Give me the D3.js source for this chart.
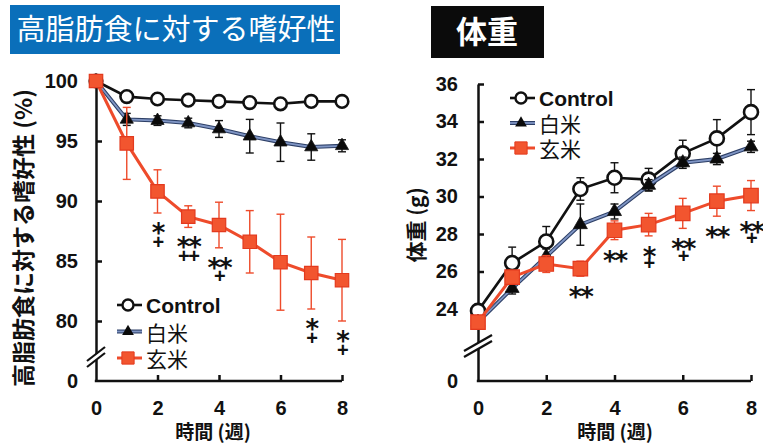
<!DOCTYPE html>
<html><head><meta charset="utf-8">
<script src="https://cdn.jsdelivr.net/npm/d3@7/dist/d3.min.js"></script>
<style>
body{margin:0;background:#fff;}
svg{display:block;}
</style></head>
<body>
<svg id="chart" width="763" height="443"></svg>
<script>
// ---------- DATA ----------
const weeks = [0, 1, 2, 3, 4, 5, 6, 7, 8];
const seriesNames = ["Control", "白米", "玄米"];

const prefControl    = [100, 98.7, 98.5, 98.4, 98.3, 98.2, 98.1, 98.3, 98.3];
const prefControlErr = [0, 0.15, 0.1, 0.1, 0.1, 0.15, 0.35, 0.25, 0.15];
const prefWhite      = [100, 96.8, 96.7, 96.5, 96.0, 95.4, 94.9, 94.5, 94.6];
const prefWhiteErr   = [0, 0.5, 0.4, 0.4, 0.7, 1.4, 1.6, 1.1, 0.5];
const prefBrown      = [100, 94.8, 90.8, 88.7, 88.0, 86.6, 84.9, 84.0, 83.4];
const prefBrownErr   = [0, 3.0, 1.8, 0.9, 1.9, 2.6, 4.0, 3.0, 3.4];

const weightControl    = [23.9, 26.45, 27.6, 30.4, 31.0, 30.9, 32.3, 33.1, 34.5];
const weightControlErr = [0.3, 0.85, 0.8, 0.6, 0.8, 0.6, 0.7, 1.0, 1.2];
const weightWhite      = [23.3, 25.1, 26.8, 28.5, 29.2, 30.6, 31.8, 32.0, 32.65];
const weightWhiteErr   = [0.3, 0.3, 0.4, 1.1, 0.4, 0.3, 0.3, 0.3, 0.3];
const weightBrown      = [23.3, 25.7, 26.4, 26.15, 28.2, 28.5, 29.1, 29.75, 30.05];
const weightBrownErr   = [0.3, 0.3, 0.45, 0.4, 0.5, 0.6, 0.8, 0.8, 0.8];

const prefSigWeeks  = [2, 3, 4, 7, 8];
const prefSigStars  = ["*", "**", "**", "*", "*"];
const prefSigPlus   = ["+", "++", "+", "+", "+"];
const weightSigWeeks = [3, 4, 5, 6, 7, 8];
const weightSigStars = ["**", "**", "*", "**", "**", "**"];
const weightSigPlus  = ["", "", "+", "+", "", "+"];

const xTicks = [0, 2, 4, 6, 8];
const prefYTicks = [0, 80, 85, 90, 95, 100];
const weightYTicks = [0, 24, 26, 28, 30, 32, 34, 36];

const titleLeft = "高脂肪食に対する嗜好性";
const titleRight = "体重";
const yTitleLeft = "高脂肪食に対する嗜好性 (%)";
const yTitleRight = "体重 (g)";
const xTitle = "時間 (週)";

// ---------- DRAW ----------
const svg = d3.select("#chart");
const NUM_FONT = "'Liberation Sans', Arial, sans-serif";
const STAR_FONT = "'DejaVu Sans', sans-serif";
const CJK_FONT = "'Noto Sans CJK JP', 'Noto Sans', sans-serif";
const RED = "#ee4b2b";

// titles
svg.append("rect").attr("x", 10).attr("y", 5).attr("width", 330).attr("height", 49).attr("fill", "#0a6fba");
svg.append("text").attr("x", 176).attr("y", 40).attr("text-anchor", "middle")
  .attr("font-family", CJK_FONT).attr("font-size", 29).attr("fill", "#fff").text(titleLeft);
svg.append("rect").attr("x", 431).attr("y", 6).attr("width", 113).attr("height", 52).attr("fill", "#0b0b0b");
svg.append("text").attr("x", 487).attr("y", 43).attr("text-anchor", "middle")
  .attr("font-family", CJK_FONT).attr("font-weight", "bold").attr("font-size", 31).attr("fill", "#fff").text(titleRight);

function panel(cfg) {
  const g = svg.append("g");
  const x = d3.scaleLinear().domain([0, 8]).range(cfg.xRange);
  const y = d3.scaleLinear().domain(cfg.yDomain).range(cfg.yRange);
  const x0 = cfg.xRange[0], yBase = cfg.yRange[0];

  // y axis
  const ya = g.append("g").attr("transform", `translate(${x0},0)`)
    .call(d3.axisLeft(y).tickValues(cfg.yTicks).tickSize(-6).tickSizeOuter(0).tickPadding(cfg.yPad));
  ya.selectAll("text").attr("font-family", NUM_FONT).attr("font-weight", "bold").attr("font-size", 20).attr("fill", "#111");
  ya.selectAll("line,path").attr("stroke", "#111").attr("stroke-width", 2.5);
  ya.selectAll(".tick").filter(d => d === 0).select("line").remove();

  // x axis
  const xa = g.append("g").attr("transform", `translate(0,${yBase})`)
    .call(d3.axisBottom(x).tickValues(xTicks).tickSize(-6).tickSizeOuter(0).tickPadding(20));
  xa.selectAll("text").attr("font-family", NUM_FONT).attr("font-weight", "bold").attr("font-size", 20).attr("fill", "#111");
  xa.selectAll("line,path").attr("stroke", "#111").attr("stroke-width", 2.5);
  xa.selectAll(".tick").filter(d => d === 0).select("line").remove();
  xa.select("path").attr("d", `M${x0 - 1.2},0H${cfg.xRange[1]}`);

  // axis break
  const b = cfg.brk;
  g.append("rect").attr("x", x0 - 3).attr("y", b.cy - b.gap / 2).attr("width", 6).attr("height", b.gap).attr("fill", "#fff");
  [-b.gap / 2, b.gap / 2].forEach(o => {
    g.append("line").attr("x1", x0 - b.hw).attr("y1", b.cy + o + b.hh)
      .attr("x2", x0 + b.hw).attr("y2", b.cy + o - b.hh)
      .attr("stroke", "#111").attr("stroke-width", 2.2);
  });

  // titles
  g.append("text").attr("transform", `translate(${cfg.yTitleX},${cfg.yTitleY}) rotate(-90)`)
    .attr("text-anchor", "middle").attr("dominant-baseline", "central")
    .attr("font-family", CJK_FONT).attr("font-weight", "bold").attr("font-size", cfg.yTitleSize).attr("fill", "#111")
    .text(cfg.yTitle);
  g.append("text").attr("x", cfg.xTitleX).attr("y", 439).attr("text-anchor", "middle")
    .attr("font-family", CJK_FONT).attr("font-weight", "bold").attr("font-size", 19).attr("fill", "#111")
    .text(xTitle);

  const line = d3.line().x((d, i) => x(weeks[i])).y(d => y(d));

  function errBars(vals, errs, color) {
    const eg = g.append("g").attr("stroke", color).attr("stroke-width", 1.4).attr("fill", "none");
    vals.forEach((v, i) => {
      const e = errs[i];
      if (!e) return;
      const xi = x(weeks[i]);
      eg.append("line").attr("x1", xi).attr("x2", xi).attr("y1", y(v - e)).attr("y2", y(v + e));
      [v - e, v + e].forEach(t => eg.append("line").attr("x1", xi - 4).attr("x2", xi + 4).attr("y1", y(t)).attr("y2", y(t)));
    });
  }

  const [cV, cE, wV, wE, bV, bE] = cfg.series;
  // Control
  errBars(cV, cE, "#111");
  g.append("path").datum(cV).attr("d", line).attr("fill", "none").attr("stroke", "#111").attr("stroke-width", 2.6);
  g.selectAll(null).data(cV).enter().append("circle")
    .attr("cx", (d, i) => x(weeks[i])).attr("cy", d => y(d)).attr("r", cfg.r)
    .attr("fill", "#fff").attr("stroke", "#111").attr("stroke-width", 2.6);
  // 白米
  errBars(wV, wE, "#111");
  g.append("path").datum(wV).attr("d", line).attr("fill", "none").attr("stroke", "#2d3f66").attr("stroke-width", 4);
  g.append("path").datum(wV).attr("d", line).attr("fill", "none").attr("stroke", "#7f95c4").attr("stroke-width", 1.8);
  g.selectAll(null).data(wV).enter().append("path")
    .attr("transform", (d, i) => `translate(${x(weeks[i])},${y(d)})`)
    .attr("d", d3.symbol(d3.symbolTriangle, cfg.triSize)).attr("fill", "#0a0a0a").attr("stroke", "#111").attr("stroke-width", 0.8);
  // 玄米
  errBars(bV, bE, RED);
  g.append("path").datum(bV).attr("d", line).attr("fill", "none").attr("stroke", RED).attr("stroke-width", 3);
  g.selectAll(null).data(bV).enter().append("path")
    .attr("transform", (d, i) => `translate(${x(weeks[i])},${y(d)})`)
    .attr("d", d3.symbol(d3.symbolSquare, cfg.sqSize)).attr("fill", "#f2552f").attr("stroke", "#e33a1e").attr("stroke-width", 1.2);

  // significance marks (below 玄米 error bars)
  cfg.sigWeeks.forEach((w, k) => {
    const i = weeks.indexOf(w);
    const bottom = y(bV[i] - bE[i]);
    const xs = x(w);
    const sy = bottom + cfg.starOff;
    svg.append("text").attr("x", xs).attr("y", sy + 0.58 * 26).attr("text-anchor", "middle")
      .attr("font-family", STAR_FONT).attr("font-weight", "bold").attr("font-size", 26).attr("fill", "#111")
      .attr("letter-spacing", -2)
      .text(cfg.sigStars[k]);
    if (cfg.sigPlus[k]) {
      const py = bottom + cfg.plusOff;
      svg.append("text").attr("x", xs).attr("y", py + 0.33 * 20).attr("text-anchor", "middle")
        .attr("font-family", NUM_FONT).attr("font-weight", "bold").attr("font-size", 20).attr("fill", "#111")
        .attr("letter-spacing", -1.5)
        .text(cfg.sigPlus[k]);
    }
  });

  // legend
  const L = cfg.legend;
  seriesNames.forEach((name, k) => {
    const ly = L.y + k * L.dy;
    const lg = g.append("g");
    if (k === 0) {
      lg.append("line").attr("x1", L.x).attr("x2", L.x + 25).attr("y1", ly).attr("y2", ly).attr("stroke", "#111").attr("stroke-width", 2.6);
      lg.append("circle").attr("cx", L.x + 11).attr("cy", ly).attr("r", 5.5).attr("fill", "#fff").attr("stroke", "#111").attr("stroke-width", 2.4);
    } else if (k === 1) {
      lg.append("line").attr("x1", L.x).attr("x2", L.x + 25).attr("y1", ly).attr("y2", ly).attr("stroke", "#2d3f66").attr("stroke-width", 4);
      lg.append("line").attr("x1", L.x).attr("x2", L.x + 25).attr("y1", ly).attr("y2", ly).attr("stroke", "#7f95c4").attr("stroke-width", 1.8);
      lg.append("path").attr("transform", `translate(${L.x + 11},${ly})`).attr("d", d3.symbol(d3.symbolTriangle, 60)).attr("fill", "#0a0a0a");
    } else {
      lg.append("line").attr("x1", L.x).attr("x2", L.x + 25).attr("y1", ly).attr("y2", ly).attr("stroke", RED).attr("stroke-width", 3);
      lg.append("path").attr("transform", `translate(${L.x + 11},${ly})`).attr("d", d3.symbol(d3.symbolSquare, 150)).attr("fill", "#f2552f").attr("stroke", "#e33a1e");
    }
    lg.append("text").attr("x", L.x + 29).attr("y", ly).attr("dominant-baseline", "central")
      .attr("font-family", k === 0 ? NUM_FONT : CJK_FONT).attr("font-weight", k === 0 ? "bold" : "normal")
      .attr("font-size", 21).attr("fill", "#111").text(name);
  });
}

panel({
  xRange: [96, 342], yDomain: [0, 78, 100], yRange: [381, 345, 81], yTicks: prefYTicks, yPad: 18,
  brk: { cy: 357, gap: 6, hw: 9, hh: 7 },
  yTitle: yTitleLeft, yTitleX: 22, yTitleY: 238, yTitleSize: 23, xTitleX: 213,
  series: [prefControl, prefControlErr, prefWhite, prefWhiteErr, prefBrown, prefBrownErr],
  r: 6.3, triSize: 75, sqSize: 180,
  sigWeeks: prefSigWeeks, sigStars: prefSigStars, sigPlus: prefSigPlus, starOff: 14, plusOff: 29,
  legend: { x: 117, y: 305, dy: 26.5 }
});

panel({
  xRange: [478, 751], yDomain: [0, 22, 36], yRange: [381, 346.5, 84], yTicks: weightYTicks, yPad: 20,
  brk: { cy: 346, gap: 6, hw: 14, hh: 8 },
  yTitle: yTitleRight, yTitleX: 415, yTitleY: 225, yTitleSize: 21, xTitleX: 615,
  series: [weightControl, weightControlErr, weightWhite, weightWhiteErr, weightBrown, weightBrownErr],
  r: 7, triSize: 85, sqSize: 210,
  sigWeeks: weightSigWeeks, sigStars: weightSigStars, sigPlus: weightSigPlus, starOff: 15, plusOff: 28,
  legend: { x: 510, y: 98, dy: 25 }
});
</script>
</body></html>
